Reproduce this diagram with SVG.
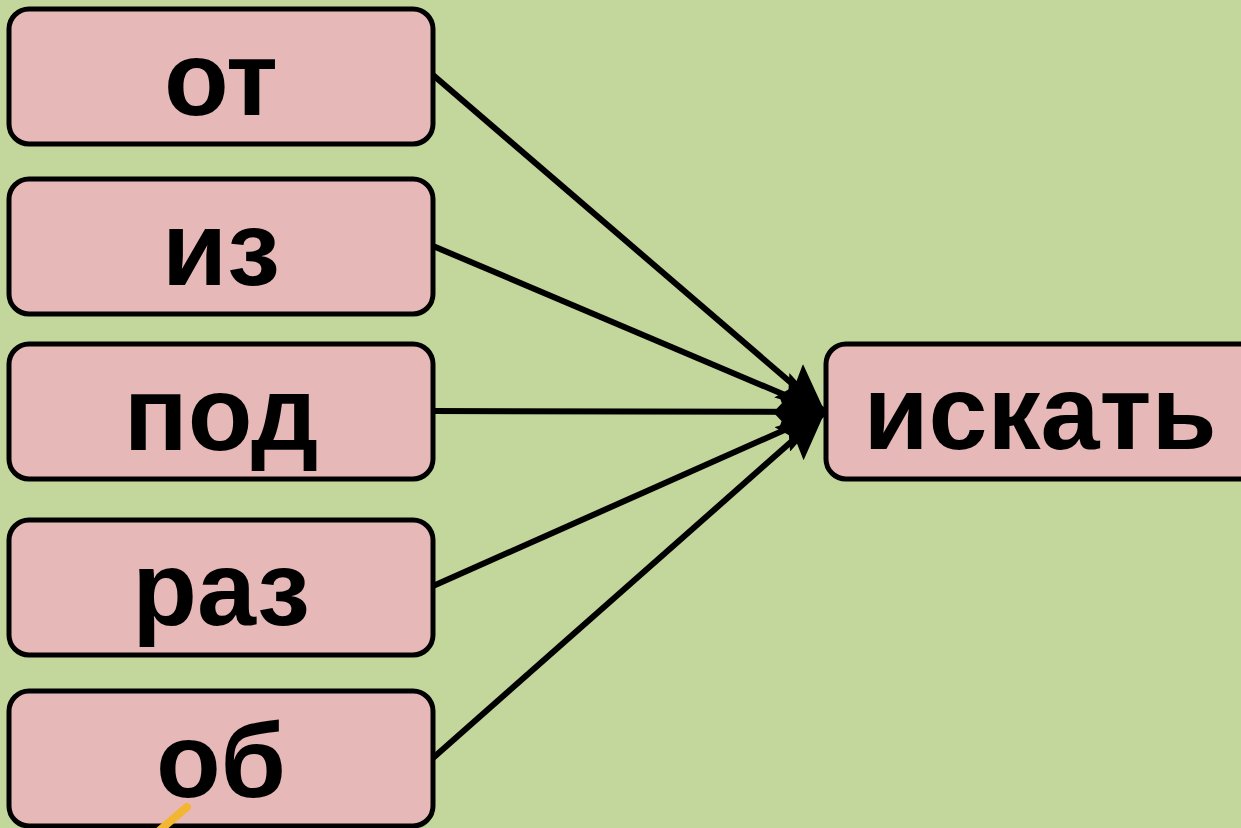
<svg xmlns="http://www.w3.org/2000/svg" width="1241" height="828" viewBox="0 0 1241 828">
<defs>
<style>
.box{fill:#e6b8b7;stroke:#000;stroke-width:5}
.lbl{font-family:"Liberation Sans",Arial,sans-serif;font-weight:bold;font-size:106px;fill:#000;text-anchor:middle}
.con{stroke:#000;stroke-width:6;fill:none}
</style>
<marker id="ah" markerUnits="userSpaceOnUse" markerWidth="50" markerHeight="44" refX="48" refY="22" orient="auto" viewBox="0 0 50 44">
<path d="M0,0 L48,22 L0,44 L8,22 z" fill="#000"/>
</marker>
</defs>
<rect width="1241" height="828" fill="#c3d69b"/>
<g id="connectors">
<line class="con" x1="433" y1="75" x2="825" y2="412" marker-end="url(#ah)"/>
<line class="con" x1="433" y1="246" x2="825" y2="412" marker-end="url(#ah)"/>
<line class="con" x1="433" y1="411" x2="825" y2="412" marker-end="url(#ah)"/>
<line class="con" x1="433" y1="586" x2="825" y2="412" marker-end="url(#ah)"/>
<line class="con" x1="433" y1="758" x2="825" y2="412" marker-end="url(#ah)"/>
</g>
<g id="n-ot"><rect class="box" x="9" y="9" width="424" height="135" rx="20"/><text class="lbl" x="221" y="115">от</text></g>
<g id="n-iz"><rect class="box" x="9" y="179" width="424" height="135" rx="20"/><text class="lbl" x="221" y="285">из</text></g>
<g id="n-pod"><rect class="box" x="9" y="344" width="424" height="135" rx="20"/><text class="lbl" x="221" y="450">под</text></g>
<g id="n-raz"><rect class="box" x="9" y="520" width="424" height="135" rx="20"/><text class="lbl" x="221" y="625">раз</text></g>
<g id="n-ob"><rect class="box" x="9" y="691" width="424" height="135" rx="20"/><text class="lbl" x="221" y="797">об</text></g>
<g id="n-iskat"><rect class="box" x="826" y="344" width="440" height="135" rx="20"/><text class="lbl" x="1040" y="449">искать</text></g>
<line x1="187" y1="807" x2="160" y2="830" stroke="#f2b630" stroke-width="8" stroke-linecap="round"/>
</svg>
